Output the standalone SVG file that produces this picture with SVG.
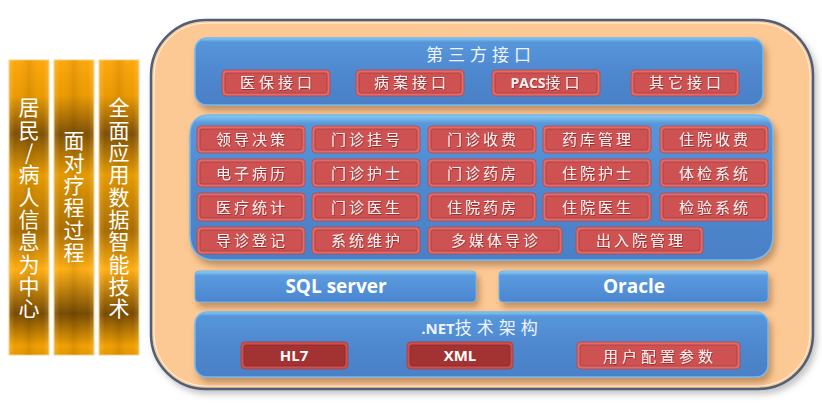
<svg xmlns="http://www.w3.org/2000/svg" width="822" height="406" viewBox="0 0 822 406">
<defs>
  <linearGradient id="gold" x1="0" y1="0" x2="0" y2="1">
    <stop offset="0" stop-color="#ffa70a"/>
    <stop offset="0.12" stop-color="#eb9a00"/>
    <stop offset="0.25" stop-color="#7e5003"/>
    <stop offset="0.39" stop-color="#e69a00"/>
    <stop offset="0.58" stop-color="#a86c00"/>
    <stop offset="0.71" stop-color="#ffae12"/>
    <stop offset="0.86" stop-color="#764a00"/>
    <stop offset="0.97" stop-color="#f2a000"/>
    <stop offset="1" stop-color="#e39500"/>
  </linearGradient>
  <linearGradient id="goldH" x1="0" y1="0" x2="1" y2="0">
    <stop offset="0" stop-color="#ffffff" stop-opacity="0.18"/>
    <stop offset="0.15" stop-color="#ffffff" stop-opacity="0"/>
    <stop offset="0.5" stop-color="#000000" stop-opacity="0.08"/>
    <stop offset="0.85" stop-color="#ffffff" stop-opacity="0"/>
    <stop offset="1" stop-color="#ffffff" stop-opacity="0.18"/>
  </linearGradient>
  <linearGradient id="blue" x1="0" y1="0" x2="0" y2="1">
    <stop offset="0" stop-color="#86cdf2"/>
    <stop offset="0.06" stop-color="#5796da"/>
    <stop offset="0.5" stop-color="#4f88cf"/>
    <stop offset="1" stop-color="#4a80c6"/>
  </linearGradient>
  <linearGradient id="blueBar" x1="0" y1="0" x2="0" y2="1">
    <stop offset="0" stop-color="#8fd2f4"/>
    <stop offset="0.15" stop-color="#5a9ade"/>
    <stop offset="1" stop-color="#4b86d0"/>
  </linearGradient>
  <filter id="sh" x="-10%" y="-10%" width="125%" height="140%">
    <feDropShadow dx="3" dy="5" stdDeviation="3" flood-color="#7a4a20" flood-opacity="0.45"/>
  </filter>
  <filter id="shc" x="-5%" y="-5%" width="112%" height="115%">
    <feDropShadow dx="3" dy="4" stdDeviation="3" flood-color="#555555" flood-opacity="0.35"/>
  </filter>
  <filter id="tsh" x="-10%" y="-20%" width="120%" height="140%">
    <feDropShadow dx="0.6" dy="0.8" stdDeviation="0.4" flood-color="#7a1f1f" flood-opacity="0.8"/>
  </filter>
  <style>
    .bar { fill: url(#gold); stroke: #f3cf80; stroke-width: 1; }
    .barH { fill: url(#goldH); }
    .vt { font-family: "Noto Sans CJK SC", sans-serif; font-size: 21px; fill: #ffffff; writing-mode: vertical-rl; text-orientation: upright; letter-spacing: 1.3px; }
    .panel { fill: url(#blue); stroke: #72b8ee; stroke-width: 1.5; }
    .dbbar { fill: url(#blueBar); stroke: #6fb4ea; stroke-width: 1; }
    .btn-o { fill: #e06a6a; stroke: #b84848; stroke-width: 0.8; }
    .btn-i { fill: #cf5252; stroke: #a83c3c; stroke-width: 0.8; }
    .btnd-o { fill: #cc5050; stroke: #b03a3a; stroke-width: 0.8; }
    .btnd-i { fill: #a33232; stroke: #8c2a2a; stroke-width: 0.8; }
    .bt { font-family: "Noto Sans CJK SC", sans-serif; font-size: 15px; fill: #fbeeee; text-anchor: middle; letter-spacing: 3px; filter: url(#tsh); }
    .it { font-family: "Noto Sans CJK SC", sans-serif; font-size: 15px; fill: #fbeeee; text-anchor: middle; letter-spacing: 4px; filter: url(#tsh); }
    .ttl { font-family: "Noto Sans CJK SC", sans-serif; font-size: 17px; fill: #eef4ff; text-anchor: middle; letter-spacing: 5px; }
    .et { font-family: "Open Sans", "Liberation Sans", sans-serif; font-weight: bold; font-size: 15px; fill: #ffffff; text-anchor: middle; }
    .db { font-family: "Open Sans", "Liberation Sans", sans-serif; font-weight: bold; font-size: 19px; fill: #ffffff; text-anchor: middle; }
  </style>
</defs>

<rect x="0" y="0" width="822" height="406" fill="#ffffff"/>

<!-- left gold bars -->
<g id="bar-resident">
  <rect class="bar" x="9" y="60" width="40" height="295"/>
  <rect class="barH" x="9" y="60" width="40" height="295"/>
  <text class="vt" x="29" y="97">居民/病人信息为中心</text>
</g>
<g id="bar-process">
  <rect class="bar" x="54" y="60" width="40" height="295"/>
  <rect class="barH" x="54" y="60" width="40" height="295"/>
  <text class="vt" x="74" y="130">面对疗程过程</text>
</g>
<g id="bar-tech">
  <rect class="bar" x="99" y="60" width="40" height="295"/>
  <rect class="barH" x="99" y="60" width="40" height="295"/>
  <text class="vt" x="119" y="97">全面应用数据智能技术</text>
</g>

<!-- main container -->
<g id="container">
  <rect x="151" y="20" width="662" height="369" rx="55" ry="55" fill="#fcc995" stroke="#4f5f78" stroke-width="2.5" filter="url(#shc)"/>
  <rect x="154" y="23" width="656" height="363" rx="52" ry="52" fill="none" stroke="#fff3e4" stroke-width="1"/>
</g>

<!-- third-party interfaces -->
<g id="third-party">
  <rect class="panel" x="195" y="38" width="568" height="67" rx="12" ry="12" filter="url(#sh)"/>
  <text class="ttl" x="481" y="61">第三方接口</text>
  <g id="if-yibao">
    <rect class="btn-o" x="222" y="70" width="108" height="26" rx="4"/>
    <rect class="btn-i" x="225" y="73" width="102" height="20" rx="2"/>
    <text class="it" x="278" y="88">医保接口</text>
  </g>
  <g id="if-bingan">
    <rect class="btn-o" x="356" y="70" width="108" height="26" rx="4"/>
    <rect class="btn-i" x="359" y="73" width="102" height="20" rx="2"/>
    <text class="it" x="412" y="88">病案接口</text>
  </g>
  <g id="if-pacs">
    <rect class="btn-o" x="492" y="70" width="108" height="26" rx="4"/>
    <rect class="btn-i" x="495" y="73" width="102" height="20" rx="2"/>
    <text class="it" x="547" y="88"><tspan font-family="Open Sans, Liberation Sans, sans-serif" font-weight="bold" font-size="14px" letter-spacing="0">PACS</tspan>接口</text>
  </g>
  <g id="if-other">
    <rect class="btn-o" x="631" y="70" width="108" height="26" rx="4"/>
    <rect class="btn-i" x="634" y="73" width="102" height="20" rx="2"/>
    <text class="it" x="687" y="88">其它接口</text>
  </g>
</g>

<!-- modules panel -->
<g id="modules">
  <path class="panel" d="M210,115 H755 Q773,115 773,133 V234 Q773,260 747,260 H216 Q190,260 190,234 V135 Q190,115 210,115 Z" filter="url(#sh)"/>

  <g id="m-lingdao"><rect class="btn-o" x="197" y="126" width="108" height="27" rx="4"/><rect class="btn-i" x="200" y="129" width="102" height="21" rx="2"/><text class="bt" x="252" y="145">领导决策</text></g>
  <g id="m-guahao"><rect class="btn-o" x="312" y="126" width="108" height="27" rx="4"/><rect class="btn-i" x="315" y="129" width="102" height="21" rx="2"/><text class="bt" x="367" y="145">门诊挂号</text></g>
  <g id="m-mzsf"><rect class="btn-o" x="428" y="126" width="108" height="27" rx="4"/><rect class="btn-i" x="431" y="129" width="102" height="21" rx="2"/><text class="bt" x="483" y="145">门诊收费</text></g>
  <g id="m-yaoku"><rect class="btn-o" x="543" y="126" width="108" height="27" rx="4"/><rect class="btn-i" x="546" y="129" width="102" height="21" rx="2"/><text class="bt" x="598" y="145">药库管理</text></g>
  <g id="m-zysf"><rect class="btn-o" x="660" y="126" width="108" height="27" rx="4"/><rect class="btn-i" x="663" y="129" width="102" height="21" rx="2"/><text class="bt" x="715" y="145">住院收费</text></g>

  <g id="m-dzbl"><rect class="btn-o" x="197" y="159" width="108" height="28" rx="4"/><rect class="btn-i" x="200" y="162" width="102" height="22" rx="2"/><text class="bt" x="252" y="179">电子病历</text></g>
  <g id="m-mzhs"><rect class="btn-o" x="312" y="159" width="108" height="28" rx="4"/><rect class="btn-i" x="315" y="162" width="102" height="22" rx="2"/><text class="bt" x="367" y="179">门诊护士</text></g>
  <g id="m-mzyf"><rect class="btn-o" x="428" y="159" width="108" height="28" rx="4"/><rect class="btn-i" x="431" y="162" width="102" height="22" rx="2"/><text class="bt" x="483" y="179">门诊药房</text></g>
  <g id="m-zyhs"><rect class="btn-o" x="543" y="159" width="108" height="28" rx="4"/><rect class="btn-i" x="546" y="162" width="102" height="22" rx="2"/><text class="bt" x="598" y="179">住院护士</text></g>
  <g id="m-tijian"><rect class="btn-o" x="660" y="159" width="108" height="28" rx="4"/><rect class="btn-i" x="663" y="162" width="102" height="22" rx="2"/><text class="bt" x="715" y="179">体检系统</text></g>

  <g id="m-ylkj"><rect class="btn-o" x="197" y="193" width="108" height="28" rx="4"/><rect class="btn-i" x="200" y="196" width="102" height="22" rx="2"/><text class="bt" x="252" y="213">医疗统计</text></g>
  <g id="m-mzys"><rect class="btn-o" x="312" y="193" width="108" height="28" rx="4"/><rect class="btn-i" x="315" y="196" width="102" height="22" rx="2"/><text class="bt" x="367" y="213">门诊医生</text></g>
  <g id="m-zyyf"><rect class="btn-o" x="428" y="193" width="108" height="28" rx="4"/><rect class="btn-i" x="431" y="196" width="102" height="22" rx="2"/><text class="bt" x="483" y="213">住院药房</text></g>
  <g id="m-zyys"><rect class="btn-o" x="543" y="193" width="108" height="28" rx="4"/><rect class="btn-i" x="546" y="196" width="102" height="22" rx="2"/><text class="bt" x="598" y="213">住院医生</text></g>
  <g id="m-jianyan"><rect class="btn-o" x="660" y="193" width="108" height="28" rx="4"/><rect class="btn-i" x="663" y="196" width="102" height="22" rx="2"/><text class="bt" x="715" y="213">检验系统</text></g>

  <g id="m-daozhen"><rect class="btn-o" x="197" y="227" width="108" height="27" rx="4"/><rect class="btn-i" x="200" y="230" width="102" height="21" rx="2"/><text class="bt" x="252" y="246">导诊登记</text></g>
  <g id="m-weihu"><rect class="btn-o" x="312" y="227" width="108" height="27" rx="4"/><rect class="btn-i" x="315" y="230" width="102" height="21" rx="2"/><text class="bt" x="367" y="246">系统维护</text></g>
  <g id="m-duomeiti"><rect class="btn-o" x="428" y="227" width="134" height="27" rx="4"/><rect class="btn-i" x="431" y="230" width="128" height="21" rx="2"/><text class="bt" x="496" y="246">多媒体导诊</text></g>
  <g id="m-churuyuan"><rect class="btn-o" x="576" y="227" width="127" height="27" rx="4"/><rect class="btn-i" x="579" y="230" width="121" height="21" rx="2"/><text class="bt" x="641" y="246">出入院管理</text></g>
</g>

<!-- databases -->
<g id="db-sqlserver">
  <rect class="dbbar" x="195" y="271" width="281" height="31" rx="4" filter="url(#sh)"/>
  <text class="db" x="336" y="293">SQL server</text>
</g>
<g id="db-oracle">
  <rect class="dbbar" x="499" y="271" width="269" height="31" rx="4" filter="url(#sh)"/>
  <text class="db" x="634" y="293">Oracle</text>
</g>

<!-- .NET framework -->
<g id="dotnet">
  <rect class="panel" x="195" y="312" width="573" height="65" rx="12" ry="12" filter="url(#sh)"/>
  <text class="ttl" x="482" y="334" letter-spacing="2px"><tspan font-family="Open Sans, Liberation Sans, sans-serif" font-weight="bold" font-size="15px" letter-spacing="0">.NET</tspan>技术架构</text>
  <g id="n-hl7">
    <rect class="btnd-o" x="241" y="342" width="107" height="27" rx="4"/>
    <rect class="btnd-i" x="244" y="345" width="101" height="21" rx="2"/>
    <text class="et" x="294" y="361">HL7</text>
  </g>
  <g id="n-xml">
    <rect class="btnd-o" x="407" y="342" width="106" height="27" rx="4"/>
    <rect class="btnd-i" x="410" y="345" width="100" height="21" rx="2"/>
    <text class="et" x="460" y="361">XML</text>
  </g>
  <g id="n-config">
    <rect class="btn-o" x="577" y="342" width="163" height="27" rx="4"/>
    <rect class="btn-i" x="580" y="345" width="157" height="21" rx="2"/>
    <text class="it" x="660" y="362" font-size="18px">用户配置参数</text>
  </g>
</g>
</svg>
